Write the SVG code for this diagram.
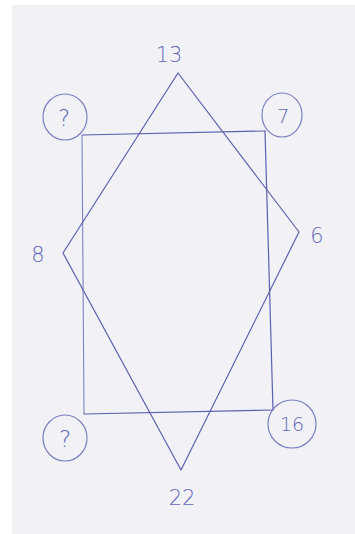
<svg xmlns="http://www.w3.org/2000/svg" width="355" height="534" viewBox="0 0 355 534">
<style>
.ln{fill:none;stroke:#5b60ad;stroke-width:1.2;stroke-linecap:round;stroke-linejoin:round}
.lt{fill:none;stroke:#7e83c4;stroke-width:1.1}
.nd{fill:none;stroke:#7a7fc0;stroke-width:1.2}
.tx{font-family:"DejaVu Sans","Liberation Sans",sans-serif;font-weight:200;fill:#6468b6;text-anchor:middle}
</style>
<rect x="0" y="0" width="355" height="534" fill="#ffffff"/>
<rect x="12" y="5" width="343" height="529" fill="#f1f1f6"/>
<g id="connectors">
<path class="ln" d="M82 135 L265 131"/>
<path class="lt" d="M82 135 L84 414"/>
<path class="ln" d="M265 131 L273 410"/>
<path class="ln" d="M84 414 L273 410"/>
<path class="ln" d="M178 73 L299 232 L181 470 L63 253 Z"/>
</g>
<g id="n13"><text class="tx" x="169" y="62" font-size="21">13</text></g>
<g id="n6"><text class="tx" x="317" y="243" font-size="21">6</text></g>
<g id="n8"><text class="tx" x="38" y="262" font-size="21">8</text></g>
<g id="n22"><text class="tx" x="182" y="505" font-size="21">22</text></g>
<g id="nTL"><ellipse class="nd" cx="65" cy="117" rx="22" ry="23"/><text class="tx" x="64" y="126" font-size="23">?</text></g>
<g id="nTR"><ellipse class="nd" cx="282" cy="115" rx="20" ry="22"/><text class="tx" x="283" y="123" font-size="20">7</text></g>
<g id="nBL"><ellipse class="nd" cx="65" cy="438" rx="22" ry="23"/><text class="tx" x="65" y="447" font-size="23">?</text></g>
<g id="nBR"><ellipse class="nd" cx="292" cy="424" rx="24" ry="24"/><text class="tx" x="292" y="431" font-size="19">16</text></g>
</svg>
